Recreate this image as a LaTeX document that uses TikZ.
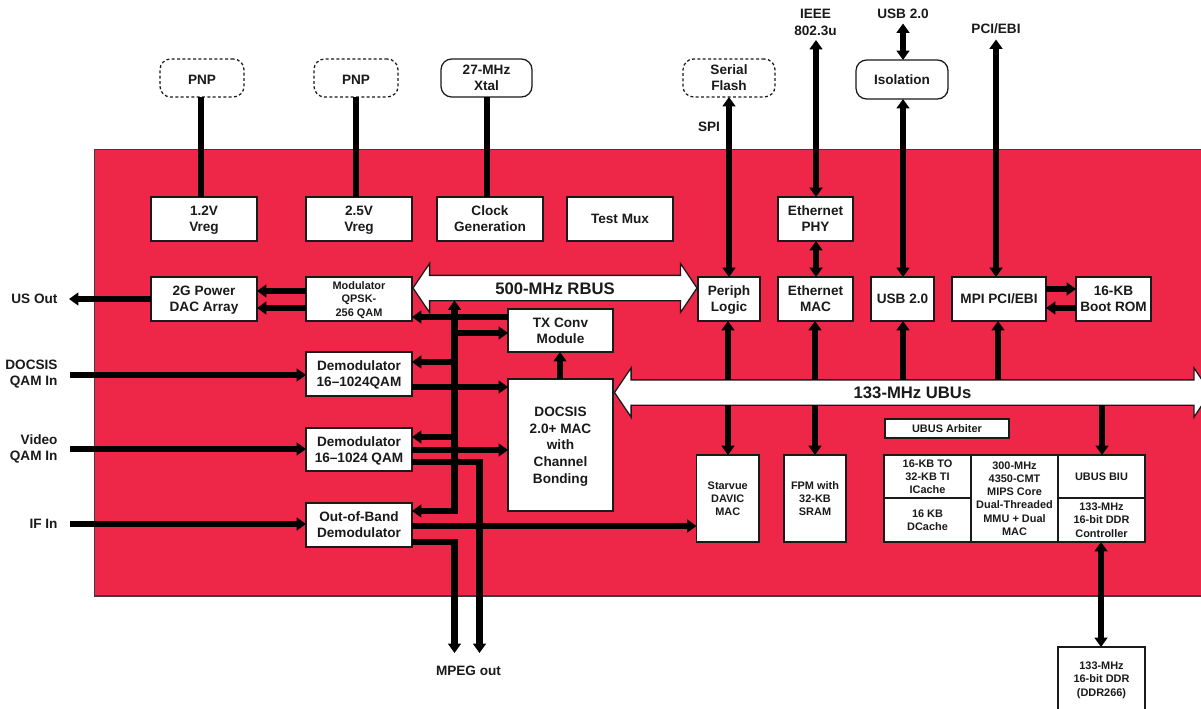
\documentclass[tikz,border=0pt]{standalone}
\usepackage{fontspec}
\setmainfont{Liberation Sans}[BoldFont={Liberation Sans Bold}]
\usetikzlibrary{arrows.meta,shapes.arrows}
\definecolor{chipred}{HTML}{EE2647}
\definecolor{edge}{HTML}{1A1A1A}
\tikzset{
  x=0.75pt,y=-0.75pt,
  txtn/.style={font=\fontsize{10.2}{12}\selectfont\bfseries,align=center,text=edge},
  txts/.style={font=\fontsize{8.2}{9.9}\selectfont\bfseries,align=center,text=edge},
  boxn/.style={draw=edge,fill=white,line width=0.95pt,inner sep=0pt,outer sep=0pt,txtn,text depth=-1.3pt},
  boxs/.style={boxn,txts},
  sgl/.style={text depth=0pt},
  pill/.style={draw=edge,fill=white,line width=0.95pt,inner sep=0pt,outer sep=0pt,txtn,rounded corners=8pt},
  dashpill/.style={pill,dash pattern=on 2.2pt off 1.8pt},
  lbl/.style={txtn,inner sep=0pt,outer sep=0pt},
  lblr/.style={lbl,align=right,anchor=east},
  wire/.style={line width=4.6pt,draw=black},
  arr/.style={wire,-{Triangle[width=9.5pt,length=7pt]}},
  biarr/.style={wire,{Triangle[width=9.5pt,length=7pt]}-{Triangle[width=9.5pt,length=7pt]}},
  busarrow/.style={shape=double arrow,draw=edge,fill=white,line width=0.95pt,inner xsep=0pt,inner ysep=0pt,outer sep=0pt,
    font=\fontsize{12.5}{15}\selectfont\bfseries,text=edge,text height=13.5pt,text depth=4.5pt,
    minimum width=36pt,double arrow head extend=9pt,double arrow tip angle=112,double arrow head indent=0pt},
}
\newcommand{\bx}[7]{\node[#1,minimum width={(#5-#3)*0.75pt},minimum height={(#6-#4)*0.75pt}] (#2) at ({(#3+#5)/2},{(#4+#6)/2}) {#7};}
\begin{document}
\begin{tikzpicture}
\useasboundingbox (0,0) rectangle (1201,709);
\fill[white] (0,0) rectangle (1201,709);
\coordinate (chipnw) at (94.5,149.5);
\coordinate (chipse) at (1215,596);
\draw[fill=chipred,draw=edge!85,line width=0.95pt] (chipnw) rectangle (chipse);

% external parts
\bx{dashpill}{pnpa}{160}{59}{244}{97}{\rule{0pt}{10.3pt}PNP}
\bx{dashpill}{pnpb}{314}{59}{398}{97}{\rule{0pt}{10.3pt}PNP}
\bx{pill}{xtal}{441}{59}{532}{97}{27-MHz\\Xtal}
\bx{dashpill}{flash}{683}{59}{775}{97}{Serial\\Flash}
\bx{pill}{iso}{856}{60}{948}{99}{Isolation}

% labels
\node[lbl,font=\fontsize{10.2}{13.3}\selectfont\bfseries] (ieee) at (815.5,22.5) {IEEE\\802.3u};
\node[lbl] (usbx) at (903,13.5) {USB 2.0};
\node[lbl] (pcix) at (996,28.5) {PCI/EBI};
\node[lbl] (spi) at (709,126.5) {SPI};
\node[lblr] (usout) at (57.5,298.5) {US Out};
\node[lblr] (docin) at (57.5,374) {DOCSIS\\QAM In};
\node[lblr] (vidin) at (57.5,449) {Video\\QAM In};
\node[lblr] (ifin) at (57.5,524) {IF In};
\node[lbl] (mpeg) at (468.5,670.5) {MPEG out};

% free ends of connectors, next to their labels
\coordinate (ieeeend) at (816,40);
\coordinate (usbxend) at (903,23.5);
\coordinate (pcixend) at (996,39.5);
\coordinate (usoutend) at (69,299);
\coordinate (docend) at (70,375);
\coordinate (vidend) at (70,449);
\coordinate (ifend) at (70,524);
\coordinate (mpegend) at (0,653);

% inner blocks
\bx{boxn}{vra}{151}{197}{257}{241}{1.2V\\Vreg}
\bx{boxn}{vrb}{306}{197}{412}{241}{2.5V\\Vreg}
\bx{boxn}{clk}{437}{197}{543}{241}{Clock\\Generation}
\bx{boxn,sgl}{tmux}{567}{197}{673}{241}{Test Mux}
\bx{boxn}{phy}{778}{197}{853}{241}{Ethernet\\PHY}
\bx{boxn}{dac}{151}{277}{257}{321}{2G Power\\DAC Array}
\bx{boxs}{mod}{306}{277}{412}{321}{Modulator\\QPSK-\\256 QAM}
\bx{boxn}{dema}{306}{352}{412}{396}{Demodulator\\16–1024QAM}
\bx{boxn}{demb}{306}{428}{412}{471}{Demodulator\\16–1024 QAM}
\bx{boxn}{oob}{306}{503}{412}{547}{Out-of-Band\\Demodulator}
\bx{boxn}{txc}{508}{309}{613}{352}{TX Conv\\Module}
\bx{boxn,font=\fontsize{10.2}{12.5}\selectfont\bfseries}{mac}{508}{379}{613}{511}{DOCSIS\\2.0+ MAC\\with\\Channel\\Bonding}
\bx{boxn}{per}{698}{277}{760}{321}{Periph\\Logic}
\bx{boxn}{emac}{778}{277}{853}{321}{Ethernet\\MAC}
\bx{boxn,sgl}{usb}{871}{277}{934}{321}{USB 2.0}
\bx{boxn,sgl}{mpi}{952}{277}{1046}{321}{MPI PCI/EBI}
\bx{boxn}{rom}{1076}{277}{1151}{321}{16-KB\\Boot ROM}
\bx{boxs}{dav}{696.5}{455}{759}{542}{Starvue\\DAVIC\\MAC}
\bx{boxs}{fpm}{784}{455}{846}{542}{FPM with\\32-KB\\SRAM}
\bx{boxs,sgl}{arb}{885}{419}{1009}{438}{UBUS Arbiter}
\bx{boxs}{ica}{884}{455}{971}{498}{16-KB TO\\32-KB TI\\ICache}
\bx{boxs}{dca}{884}{498}{971}{542}{16 KB\\DCache}
\bx{boxs}{mips}{971}{455}{1058}{542}{300-MHz\\4350-CMT\\MIPS Core\\Dual-Threaded\\MMU + Dual\\MAC}
\bx{boxs,sgl}{biu}{1058}{455}{1145}{498}{UBUS BIU}
\bx{boxs}{ctl}{1058}{498}{1145}{542}{133-MHz\\16-bit DDR\\Controller}
\bx{boxs}{ddr}{1058}{647}{1145}{711}{133-MHz\\16-bit DDR\\(DDR266)}

% buses
\node[busarrow,minimum height=213pt] (rbus) at (555,288) {500-MHz RBUS};
\node[busarrow,minimum height=447pt] (ubus) at (912.5,392.5) {133-MHz UBUs};
\coordinate (rbusb) at (555,300.5);
\coordinate (ubust) at (912,380);
\coordinate (ubusb) at (912,405);

% connectors above the chip
\draw[wire] (pnpa.south -| 201,0) -- (vra.north -| 201,0);
\draw[wire] (pnpb.south) -- (vrb.north -| pnpb.south);
\draw[wire] (xtal.south -| 487,0) -- (clk.north -| 487,0);
\draw[biarr] (flash.south -| 729,0) -- (per.north -| 729,0);
\draw[biarr] (ieeeend) -- (phy.north -| ieeeend);
\draw[biarr] (usbxend) -- (iso.north -| usbxend);
\draw[biarr] (iso.south -| 903,0) -- (usb.north -| 903,0);
\draw[biarr] (pcixend) -- (mpi.north -| pcixend);
\draw[biarr] (phy.south -| 816,0) -- (emac.north -| 816,0);

% left side
\draw[arr] (mod.west |- 0,291) -- (dac.east |- 0,291);
\draw[arr] (mod.west |- 0,308) -- (dac.east |- 0,308);
\draw[arr] (dac.west |- usoutend) -- (usoutend);
\draw[arr] (docend) -- (dema.west |- docend);
\draw[arr] (vidend) -- (demb.west |- vidend);
\draw[arr] (ifend) -- (oob.west |- ifend);

% central bus
\draw[biarr] (oob.east |- 0,511) -| (rbusb -| 454.5,0);
\draw[arr] (txc.west |- 0,317) -- (mod.east |- 0,317);
\draw[arr] (454.5,333) -- (txc.west |- 0,333);
\draw[arr] (454.5,362) -- (dema.east |- 0,362);
\draw[arr] (454.5,437) -- (demb.east |- 0,437);
\draw[arr] (dema.east |- 0,387) -- (mac.west |- 0,387);
\draw[arr] (demb.east |- 0,450) -- (mac.west |- 0,450);
\draw[arr] (mac.north -| 560,0) -- (txc.south -| 560,0);
\draw[arr] (demb.east |- 0,462) -| (mpegend -| 479.5,0);
\draw[arr] (oob.east |- 0,542) -| (mpegend -| 454.5,0);
\draw[arr] (oob.east |- 0,526) -- (dav.west |- 0,526);

% right side
\draw[arr] (ubust -| 728,0) -- (per.south -| 728,0);
\draw[arr] (ubusb -| 728,0) -- (dav.north -| 728,0);
\draw[arr] (ubust -| 815,0) -- (emac.south -| 815,0);
\draw[arr] (ubusb -| 815,0) -- (fpm.north -| 815,0);
\draw[arr] (ubust -| 903,0) -- (usb.south -| 903,0);
\draw[arr] (ubust -| 998,0) -- (mpi.south -| 998,0);
\draw[arr] (ubusb -| 1102,0) -- (biu.north -| 1102,0);
\draw[biarr] (ctl.south -| 1101,0) -- (ddr.north -| 1101,0);
\draw[arr] (mpi.east |- 0,289) -- (rom.west |- 0,289);
\draw[arr] (rom.west |- 0,308) -- (mpi.east |- 0,308);
\end{tikzpicture}
\end{document}
